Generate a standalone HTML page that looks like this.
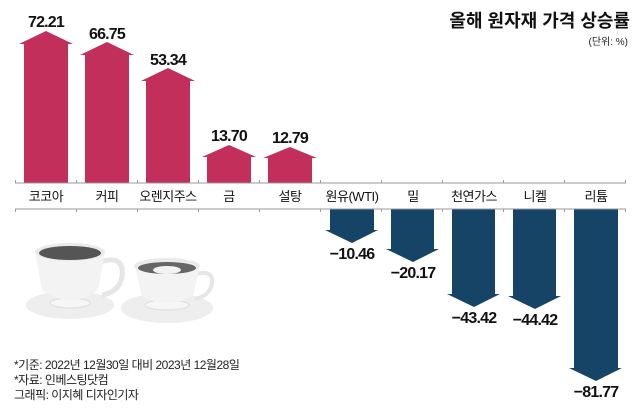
<!DOCTYPE html><html><head><meta charset="utf-8"><style>
body{margin:0;background:#fff;}
svg text{font-family:"Liberation Sans","Noto Sans CJK KR",sans-serif;}
</style></head><body>
<svg width="640" height="411" viewBox="0 0 640 411" xmlns="http://www.w3.org/2000/svg">
<rect width="640" height="411" fill="#fff"/>
<text x="630" y="27" text-anchor="end" font-size="18" font-weight="bold" fill="#111">올해 원자재 가격 상승률</text>
<text x="628" y="45" text-anchor="end" font-size="10" fill="#222">(단위: %)</text>
<g fill="#c12f5a">
<polygon points="24,183 24,44 19,44 46,31 73,44 68,44 68,183"/>
<polygon points="85,183 85,55 80,55 107,42 134,55 129,55 129,183"/>
<polygon points="146,183 146,81 141,81 168,68 195,81 190,81 190,183"/>
<polygon points="207,183 207,157 202,157 229,145 256,157 251,157 251,183"/>
<polygon points="268,183 268,158 263,158 290,147 317,158 312,158 312,183"/>
</g>
<g fill="#164466">
<polygon points="330,209 330,230 325,230 352,243 378,230 374,230 374,209"/>
<polygon points="391,209 391,249 386,249 413,262 439,249 434,249 434,209"/>
<polygon points="452,209 452,294 447,294 474,307 500,294 495,294 495,209"/>
<polygon points="513,209 513,296 508,296 535,309 561,296 556,296 556,209"/>
<polygon points="574,209 574,368 569,368 596,381 622,368 618,368 618,209"/>
</g>
<g stroke="#999" stroke-width="1">
<line x1="15" y1="183" x2="626" y2="183"/>
<line x1="15" y1="209" x2="626" y2="209"/>
<path d="M15.5,183v-3M76.5,183v-3M137.5,183v-3M198.5,183v-3M259.5,183v-3M320.5,183v-3M381.5,183v-3M442.5,183v-3M503.5,183v-3M564.5,183v-3M625.5,183v-3"/>
<path d="M15.5,209v3M76.5,209v3M137.5,209v3M198.5,209v3M259.5,209v3M320.5,209v3M381.5,209v3M442.5,209v3M503.5,209v3M564.5,209v3M625.5,209v3"/>
</g>
<g font-size="16" font-weight="bold" fill="#111" text-anchor="middle" letter-spacing="-0.8">
<text x="46" y="27">72.21</text><text x="107" y="39">66.75</text><text x="168" y="65">53.34</text>
<text x="229" y="141">13.70</text><text x="290" y="143">12.79</text>
<text x="352" y="259">−10.46</text><text x="413" y="278">−20.17</text>
<text x="474" y="323">−43.42</text><text x="535" y="325">−44.42</text><text x="596" y="397">−81.77</text>
</g>
<g font-size="13" fill="#111" text-anchor="middle" letter-spacing="-0.5">
<text x="46" y="201">코코아</text><text x="107" y="201">커피</text><text x="168" y="201">오렌지주스</text>
<text x="229" y="201">금</text><text x="290" y="201">설탕</text><text x="352" y="201">원유(WTI)</text>
<text x="413" y="201">밀</text><text x="474" y="201">천연가스</text><text x="535" y="201">니켈</text><text x="596" y="201">리튬</text>
</g>
<ellipse cx="70" cy="305" rx="44" ry="14" fill="#eee"/>
<ellipse cx="70" cy="303" rx="20" ry="5" fill="#f6f6f6" stroke="#ddd"/>
<path d="M100,262 q25,-8 22,15 q-3,15 -20,18" fill="none" stroke="#e6e6e6" stroke-width="5"/>
<path d="M35,252 L105,252 L98,290 Q70,310 42,290 Z" fill="#f3f3f3"/>
<ellipse cx="70" cy="252" rx="35" ry="9" fill="#eaeaea"/>
<ellipse cx="70" cy="253" rx="31" ry="7" fill="#555"/>
<ellipse cx="167" cy="308" rx="46" ry="15" fill="#eee"/>
<ellipse cx="167" cy="305" rx="22" ry="5" fill="#f6f6f6" stroke="#ddd"/>
<path d="M196,274 q20,-5 15,13 q-3,9 -16,12" fill="none" stroke="#e6e6e6" stroke-width="4"/>
<path d="M135,266 L200,266 L193,296 Q167,310 142,296 Z" fill="#f3f3f3"/>
<ellipse cx="167" cy="266" rx="33" ry="8" fill="#eaeaea"/>
<ellipse cx="167" cy="268" rx="29" ry="6" fill="#666"/>
<ellipse cx="167" cy="270" rx="14" ry="4" fill="#f2f2f2"/>
<g font-size="12" fill="#222" letter-spacing="-0.5">
<text x="14" y="369">*기준: 2022년 12월30일 대비 2023년 12월28일</text>
<text x="14" y="384">*자료: 인베스팅닷컴</text>
<text x="14" y="399">그래픽: 이지혜 디자인기자</text>
</g>
</svg>
</body></html>
